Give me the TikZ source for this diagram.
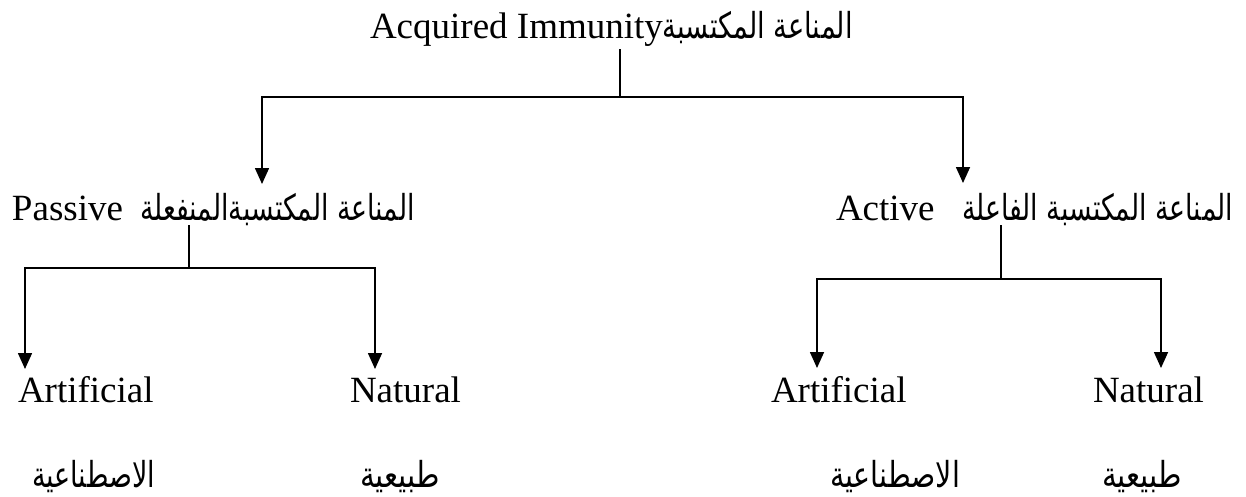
\documentclass[tikz,border=0pt]{standalone}
\usepackage{fontspec}
\usepackage{graphicx}
\setmainfont{Liberation Serif}
\newfontfamily\arfont[Script=Arabic]{DejaVu Sans}
\TeXXeTstate=1
\usetikzlibrary{arrows.meta}
\newcommand\artxt[2]{\resizebox{#1pt}{\totalheight}{\fontsize{30}{36}\arfont #2}}
\begin{document}
\begin{tikzpicture}[x=1pt,y=-1pt,
  lbl/.style={inner sep=0pt,outer sep=0pt,font=\fontsize{37}{44}\selectfont},
  link/.style={line width=1.6pt},
  arr/.style={line width=1.6pt,-{Triangle[width=14pt,length=16pt]}}]
\useasboundingbox (0,0) rectangle (1246,496);
% texts
\node[lbl,anchor=base west] (top) at (370,38) {Acquired Immunity\artxt{190}{\beginR المناعة المكتسبة\endR}};
\node[lbl,anchor=base west] (pas) at (12,220) {Passive};
\node[lbl,anchor=base west] (pasar) at (140,220) {\artxt{275}{\beginR المناعة المكتسبةالمنفعلة\endR}};
\node[lbl,anchor=base west] (act) at (836,220) {Active};
\node[lbl,anchor=base west] (actar) at (962,220) {\artxt{271}{\beginR المناعة المكتسبة الفاعلة\endR}};
\node[lbl,anchor=base west] (pa) at (18,402) {Artificial};
\node[lbl,anchor=base west] (pn) at (350,402) {Natural};
\node[lbl,anchor=base west] (aa) at (771,402) {Artificial};
\node[lbl,anchor=base west] (an) at (1093,402) {Natural};
\node[lbl,anchor=base west] (paar) at (32,487) {\artxt{123}{\beginR الاصطناعية\endR}};
\node[lbl,anchor=base west] (pnar) at (360,487) {\artxt{80}{\beginR طبيعية\endR}};
\node[lbl,anchor=base west] (aaar) at (830,487) {\artxt{130}{\beginR الاصطناعية\endR}};
\node[lbl,anchor=base west] (anar) at (1102,487) {\artxt{80}{\beginR طبيعية\endR}};
% connector points
\coordinate (t0) at (620,49);
\coordinate (j0) at (620,97);
\coordinate (pIn) at (262,184);
\coordinate (aIn) at (963,183);
\coordinate (p0) at (189,225);
\coordinate (j1) at (189,268);
\coordinate (paIn) at (25,369);
\coordinate (pnIn) at (375,369);
\coordinate (a0) at (1001,225);
\coordinate (j2) at (1001,279);
\coordinate (aaIn) at (817,368);
\coordinate (anIn) at (1161,368);
% connectors
\draw[link] (t0) -- (j0);
\draw[arr] (j0) -| (pIn);
\draw[arr] (j0) -| (aIn);
\draw[link] (p0) -- (j1);
\draw[arr] (j1) -| (paIn);
\draw[arr] (j1) -| (pnIn);
\draw[link] (a0) -- (j2);
\draw[arr] (j2) -| (aaIn);
\draw[arr] (j2) -| (anIn);
\end{tikzpicture}
\end{document}
